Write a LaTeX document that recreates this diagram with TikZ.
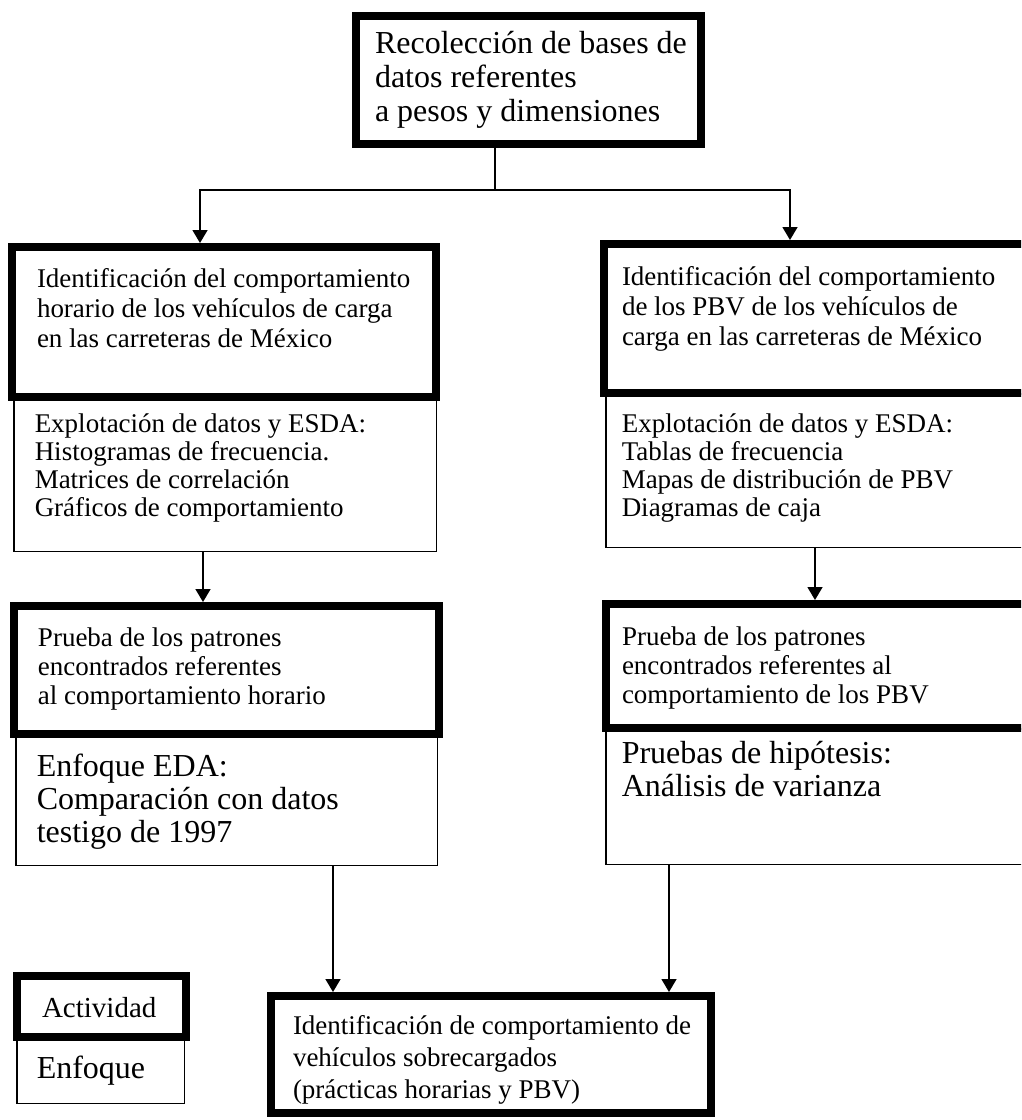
\documentclass[tikz,border=0pt]{standalone}
\usepackage{fontspec}
\setmainfont{Liberation Serif}
\usetikzlibrary{arrows.meta}
% box contents: width, height, left pad, first baseline, text
\newcommand{\caja}[5]{\parbox[c][#2][t]{#1}{\leftskip=#3\relax\rule{0pt}{#4}#5}}
\newcommand{\letranormal}{\fontsize{27}{30}\selectfont}
\newcommand{\letragrande}{\fontsize{32}{34}\selectfont}

\begin{document}
\begin{tikzpicture}[x=1pt, y=-1pt,
        actividad/.style={draw, line width=8pt, inner sep=0pt, anchor=north west},
        enfoque/.style={draw, line width=1.5pt, inner sep=0pt, anchor=north west},
        linea/.style={line width=1.5pt},
        flecha/.style={-{Triangle[length=13pt, width=15pt]}, line width=1.5pt},
      ]
        \useasboundingbox (0,0) rectangle (1021,1120);
        \clip (0,0) rectangle (1021,1120);

        % enfoques (thin boxes first)
        \node[enfoque, font=\fontsize{27}{28}\selectfont] (explh) at (13,397)
          {\caja{422.5pt}{153.5pt}{21pt}{35pt}{Explotación de datos y ESDA:\\Histogramas de frecuencia.\\Matrices de correlación\\Gráficos de comportamiento}};
        \node[enfoque, font=\fontsize{32}{33}\selectfont] (eda) at (15,734)
          {\caja{421.5pt}{130.5pt}{21pt}{42pt}{Enfoque EDA:\\Comparación con datos\\testigo de 1997}};
        \node[enfoque, font=\fontsize{27}{28}\selectfont] (explp) at (605,393)
          {\caja{433.5pt}{153.5pt}{16pt}{39pt}{Explotación de datos y ESDA:\\Tablas de frecuencia\\Mapas de distribución de PBV\\Diagramas de caja}};
        \node[enfoque, font=\fontsize{32}{33}\selectfont] (hip) at (605,728)
          {\caja{433.5pt}{135.5pt}{16pt}{35pt}{Pruebas de hipótesis:\\Análisis de varianza}};

        % actividades
        \node[actividad, font=\letragrande] (recol) at (352,12)
          {\caja{345pt}{128pt}{19pt}{37pt}{Recolección de bases de\\datos referentes\\a pesos y dimensiones}};
        \node[actividad, font=\letranormal] (idhor) at (8,243)
          {\caja{424pt}{150pt}{25pt}{40pt}{Identificación del comportamiento\\horario de los vehículos de carga\\en las carreteras de México}};
        \node[actividad, font=\fontsize{27}{29}\selectfont] (prh) at (10,602)
          {\caja{425pt}{128pt}{24pt}{40pt}{Prueba de los patrones\\encontrados referentes\\al comportamiento horario}};
        \node[actividad, font=\letranormal] (idpbv) at (600,240)
          {\caja{432pt}{149pt}{18pt}{41pt}{Identificación del comportamiento\\de los PBV de los vehículos de\\carga en las carreteras de México}};
        \node[actividad, font=\fontsize{27}{29}\selectfont] (prp) at (602,600)
          {\caja{430pt}{124pt}{16pt}{41pt}{Prueba de los patrones\\encontrados referentes al\\comportamiento de los PBV}};
        \node[actividad, font=\fontsize{27}{32}\selectfont] (ident) at (267,992)
          {\caja{440pt}{117pt}{22pt}{38pt}{Identificación de comportamiento de\\vehículos sobrecargados\\(prácticas horarias y PBV)}};

        % leyenda
        \node[enfoque, font=\letragrande] (leg2) at (16,1037)
          {\caja{167.5pt}{65.5pt}{20pt}{41pt}{Enfoque}};
        \node[actividad, font=\fontsize{29}{31}\selectfont] (leg1) at (13,972)
          {\caja{169pt}{61pt}{25pt}{41pt}{Actividad}};

        % conectores
        \coordinate (split) at (495,190);
        \draw[linea] (recol.south -| split) -- (split);
        \draw[flecha] (split) -| ([xshift=-24pt]idhor.north);
        \draw[flecha] (split) -| ([xshift=-30pt]idpbv.north);

        \draw[flecha] ([xshift=-22pt]explh.south) -- ([xshift=-22pt]explh.south |- prh.north);
        \draw[flecha] ([xshift=-7.5pt]explp.south) -- ([xshift=-7.5pt]explp.south |- prp.north);

        \draw[flecha] ([xshift=106.5pt]eda.south) -- ([xshift=106.5pt]eda.south |- ident.north);
        \draw[flecha] ([xshift=-153.5pt]hip.south) -- ([xshift=-153.5pt]hip.south |- ident.north);
      \end{tikzpicture}
\end{document}
